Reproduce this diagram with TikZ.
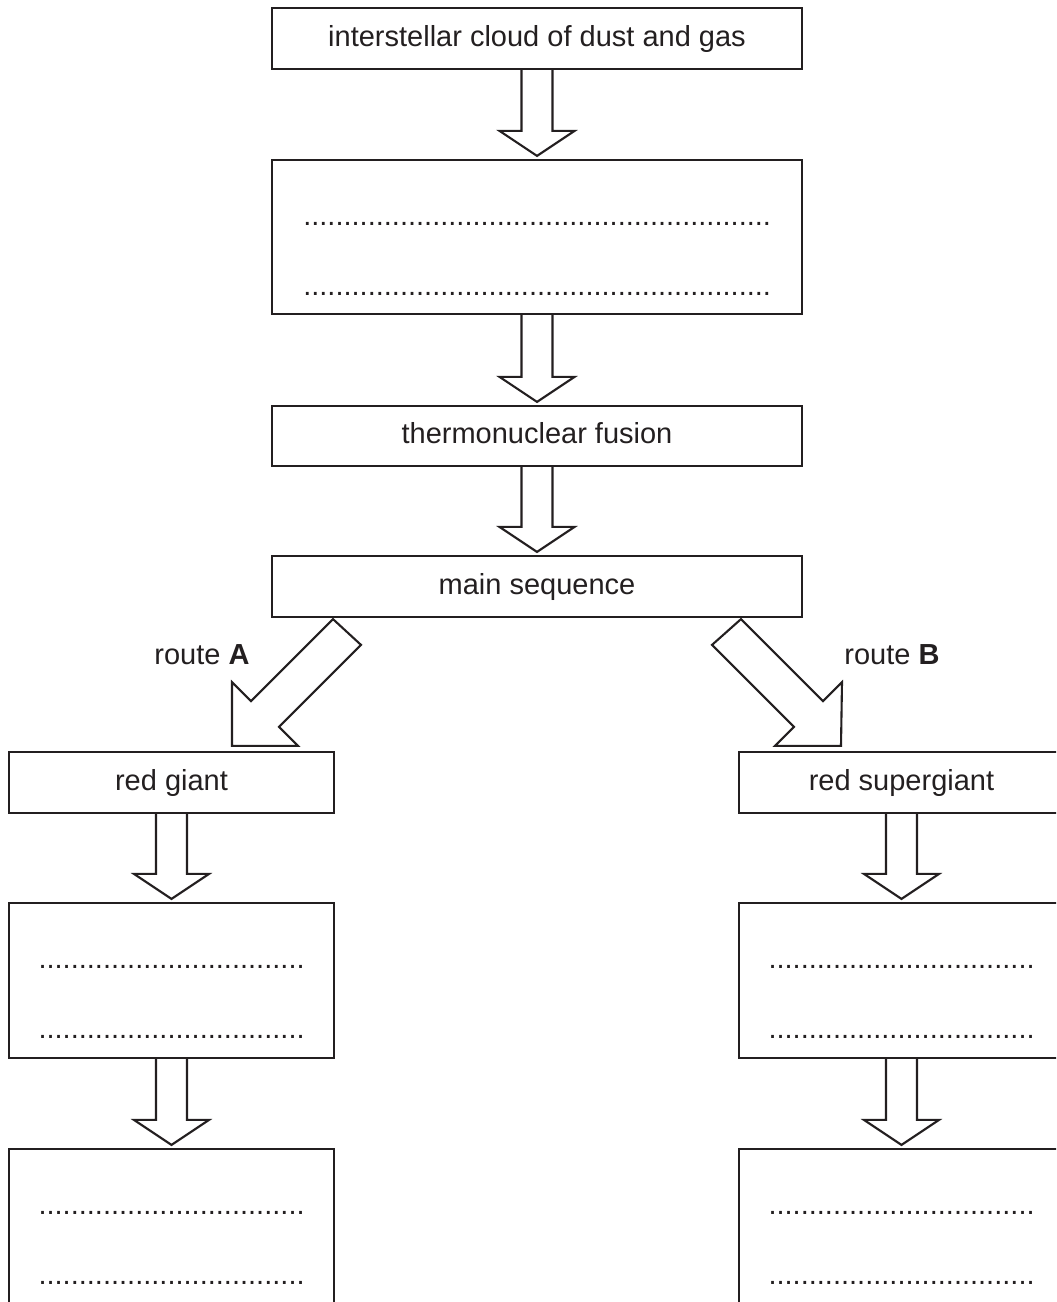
\documentclass[tikz,border=0pt]{standalone}
\usepackage{fontspec}
\setmainfont{Liberation Sans}
\usetikzlibrary{calc}

\definecolor{ink}{RGB}{35,31,32}

% row of dots to write on
\newcommand{\answerline}[1]{\hbox to #1{\cleaders\hbox to 4.03pt{\hss.\hss}\hfill}}

% hollow arrow straight down from one box to the next
\newcommand{\fatdown}[2]{%
    \draw[fat] ($(#1.south)+(-15.5,0)$) -- ($(#2.north)+(-15.5,-28)$) -- ++(-22,0)
        -- ($(#2.north)+(0,-3)$) -- ($(#2.north)+(37.5,-28)$) -- ++(-22,0)
        -- ($(#1.south)+(15.5,0)$);}

\begin{document}
\begin{tikzpicture}[x=0.5pt,y=-0.5pt]
    \tikzstyle{every node}=[font={\fontsize{14.5}{17}\selectfont}, text=ink]
    \tikzstyle{box}=[draw=ink, line width=1.1pt, inner sep=0pt, text height=0.8em, text depth=0.05em]
    \tikzstyle{wide}=[box, minimum width=265pt]
    \tikzstyle{narrow}=[box, minimum width=162.5pt]
    \tikzstyle{fat}=[draw=ink, line width=1.05pt, line join=miter]
    \useasboundingbox (0,0) rectangle (1056,1302);
    \clip (0,0) rectangle (1056,1302);

    % centre column
    \node[wide, minimum height=30.5pt] (cloud) at (537,38.5) {interstellar cloud of dust and gas};
    \node[wide, minimum height=77pt] (blank) at (537,237) {};
    \node[wide, minimum height=30pt] (fusion) at (537,436) {thermonuclear fusion};
    \node[wide, minimum height=30.5pt] (mainseq) at (537,586.5) {main sequence};

    % two routes
    \node[narrow, minimum height=30.5pt] (giant) at (171.5,782.5) {red giant};
    \node[narrow, minimum height=30.5pt] (supergiant) at (901.5,782.5) {red supergiant};
    \node[narrow, minimum height=77.5pt] (giantnext) at (171.5,980.5) {};
    \node[narrow, minimum height=77.5pt] (supernext) at (901.5,980.5) {};
    \node[narrow, minimum height=77.5pt] (giantlast) at (171.5,1226.5) {};
    \node[narrow, minimum height=77.5pt] (superlast) at (901.5,1226.5) {};

    \node (routeA) at (202,655) {route \textbf{A}};
    \node (routeB) at (892,655) {route \textbf{B}};

    % dotted answer lines
    \foreach \b/\w in {blank/236pt, giantnext/136pt, supernext/136pt, giantlast/136pt, superlast/136pt}{
        \node[anchor=base, inner sep=0pt] (\b-one) at ($(\b.north)+(0,66.5)$) {\answerline{\w}};
        \node[anchor=base, inner sep=0pt] (\b-two) at ($(\b.north)+(0,137)$) {\answerline{\w}};
    }

    % arrows
    \fatdown{cloud}{blank}
    \fatdown{blank}{fusion}
    \fatdown{fusion}{mainseq}
    \fatdown{giant}{giantnext}
    \fatdown{giantnext}{giantlast}
    \fatdown{supergiant}{supernext}
    \fatdown{supernext}{superlast}

    \draw[fat] ($(mainseq.south)+(-204,1)$) -- ++(-82,82) -- ++(-19,-19)
        -- ($(giant.north)+(60.5,-5)$) -- ++(66,0) -- ++(-19,-19) -- ++(82,-82) -- cycle;
    \draw[fat] ($(mainseq.south)+(204,1)$) -- ++(82,82) -- ++(19,-19)
        -- ($(supergiant.north)+(-60.5,-5)$) -- ++(-66,0) -- ++(19,-19) -- ++(-82,-82) -- cycle;
\end{tikzpicture}
\end{document}
